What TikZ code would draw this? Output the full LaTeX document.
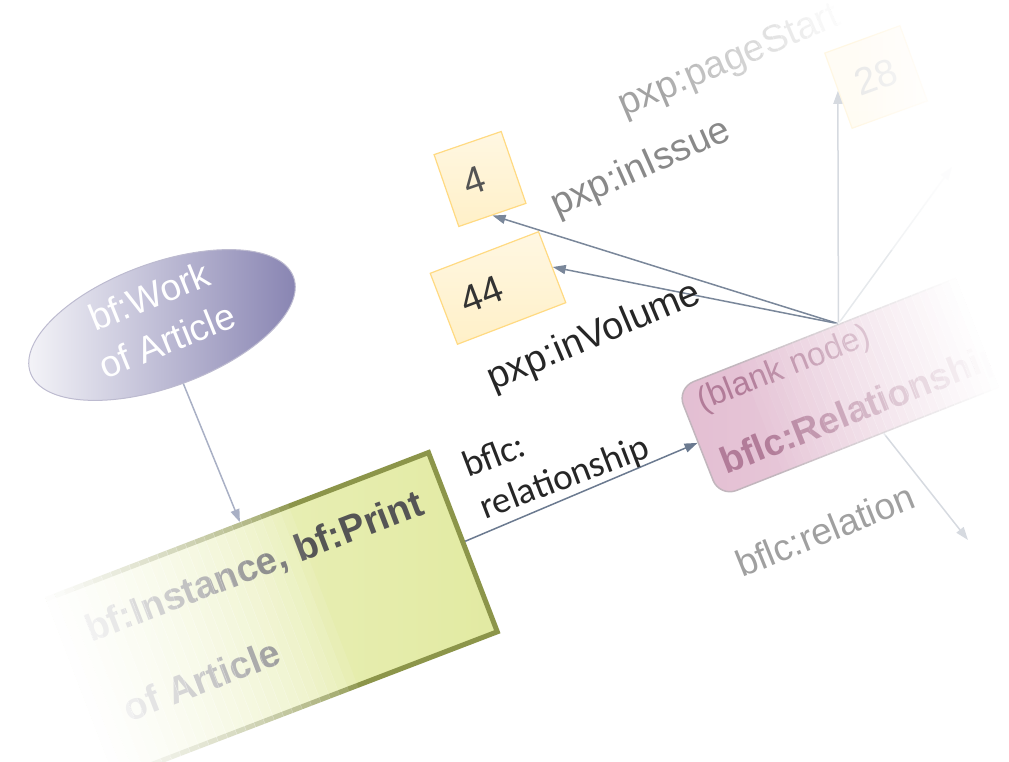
\documentclass[tikz,border=0pt]{standalone}
\usepackage{fontspec}
\setmainfont{Liberation Sans}
\newfontfamily\carlito{Carlito}
\usetikzlibrary{arrows.meta,calc,shapes.geometric}
\definecolor{workl}{HTML}{F7F7FA}
\definecolor{workr}{HTML}{8581B0}
\definecolor{workline}{HTML}{BDBBD0}
\definecolor{printl}{HTML}{EEF3C8}
\definecolor{printr}{HTML}{E2EAA2}
\definecolor{printline}{HTML}{8C954A}
\definecolor{printtext}{HTML}{555555}
\definecolor{rell}{HTML}{E3BED2}
\definecolor{relr}{HTML}{EFDAE5}
\definecolor{relline}{HTML}{C2B6BD}
\definecolor{reltext}{HTML}{B27C99}
\definecolor{valtop}{HTML}{FFF7E2}
\definecolor{valbot}{HTML}{FFF0C8}
\definecolor{valline}{HTML}{FFDA82}
\definecolor{darkarrow}{HTML}{7A879A}
\definecolor{relarrow}{HTML}{6B7A90}
\definecolor{workarrow}{HTML}{A9B0C5}
\definecolor{faintarrow}{HTML}{D6DAE0}
\definecolor{fainterarrow}{HTML}{E6E9EC}
\definecolor{txtdark}{HTML}{262626}
\definecolor{txtmid}{HTML}{898989}
\definecolor{txtlight}{HTML}{A2A2A2}
\definecolor{txtrel}{HTML}{A0A0A0}
\begin{document}
\begin{tikzpicture}[x=1pt,y=-1pt,
  arr/.style={-{Triangle[length=13pt,width=9pt]}, line width=1.5pt},
  valbox/.style={rectangle, draw=valline, line width=1.2pt, top color=valtop, bottom color=valbot,
     inner xsep=19pt, inner ysep=0pt, align=left, minimum height=76pt,
     font=\fontsize{38}{44}\selectfont},
  lbl/.style={anchor=base west, inner sep=0pt, font=\fontsize{38}{44}\selectfont},
  workst/.style={ellipse, rotate=20, minimum width=280pt, minimum height=124pt,
     left color=workl, right color=workr, draw=workline, line width=1pt},
  printst/.style={rectangle, minimum width=440pt, minimum height=192pt,
     left color=printl, right color=printr, draw=printline, line width=5pt},
  relst/.style={rectangle, rounded corners=18pt, minimum width=380pt, minimum height=117pt,
     left color=rell, right color=relr, draw=relline, line width=1.5pt},
  veil/.style={white, draw=none},
]
\useasboundingbox (0,0) rectangle (1009,762);

% ---- work ellipse
\node[workst] (work) at (162,325) {};
\node[rotate=22, text=white, align=center, inner sep=0pt,
      font=\fontsize{37}{48}\selectfont] (worktxt) at (158,318) {bf:Work\\of Article};

% ---- print box
\begin{scope}[shift={(257.5,621)}, rotate=21, transform shape]
  \node[printst] (print) at (0,0) {};
  \node[inner sep=0pt, text=printtext, font=\bfseries\fontsize{38}{44}\selectfont] (printt1) at (16.6,-50.4) {bf:Instance, bf:Print};
  \node[inner sep=0pt, text=printtext, font=\bfseries\fontsize{38}{44}\selectfont] (printt2) at (-73,35) {of Article};
\end{scope}

% ---- relationship box
\begin{scope}[shift={(875,373)}, rotate=21.5, transform shape]
  \node[relst] (rel) at (0,0) {};
  \node[anchor=base west, inner sep=0pt, text=reltext, font=\fontsize{33}{40}\selectfont] (blank) at (-175,-28) {(blank node)};
  \node[anchor=base west, inner sep=0pt, text=reltext, font=\bfseries\fontsize{37}{44}\selectfont] (reltxt) at (-176,40) {bflc:Relationship};
\end{scope}

% ---- value boxes
\node[valbox, rotate=19, text width=33pt, text=black!67] (b4) at (480,179) {4};
\node[valbox, rotate=21, text width=78pt, text=black!80] (b44) at (498,288) {44};
\node[valbox, rotate=20, text width=42pt, minimum height=80pt, draw=valline!22, top color=valtop!30, bottom color=valbot!22, text=black!9] (b28) at (876,77) {28};

% ---- connectors
\coordinate (hub) at ($(rel.north)!16pt!(rel.north west)$);
\coordinate (pe) at (952,167);
\coordinate (relout) at ($(rel.south)!14pt!(rel.south west)$);
\coordinate (relend) at (968,540);
\draw[arr, darkarrow] (hub) -- (b4.south);
\draw[arr, darkarrow] (hub) -- (b44.east);
\draw[arr, faintarrow] (hub) -- (b28.west);
\draw[arr, fainterarrow] (hub) -- (pe);
\draw[arr, faintarrow] (relout) -- (relend);
\draw[arr, relarrow] (print.east) -- (rel.west);
\draw[arr, workarrow] (work.south) -- ($(print.north)!19pt!(print.north east)$);

% ---- labels
\node[lbl, rotate=23, text=txtdark] (lvol) at (493,391) {pxp:inVolume};
\node[lbl, rotate=24, text=txtmid] (liss) at (557,217) {pxp:inIssue};
\node[lbl, rotate=23, text=txtlight] (lpage) at (624,117) {pxp:pageStart};
\node[lbl, rotate=22, text=txtrel, font=\fontsize{37}{44}\selectfont] (lrel) at (742,578) {bflc:relation};
\node[lbl, rotate=21, text=txtdark, font=\carlito\fontsize{37}{44}\selectfont] (lrs1) at (468,478) {bflc:};
\node[lbl, rotate=21, text=txtdark, font=\carlito\fontsize{37}{44}\selectfont] (lrs2) at (485,520) {relationship};

% ---- fading veils (stepped white overlays)
\begin{scope}[shift={(257.5,621)}, rotate=21]
  \fill[veil] (-260,-100) rectangle (-189.7,130);
  \foreach \i in {0,...,25}{
    \pgfmathsetmacro\ua{-190+\i*10}
    \pgfmathsetmacro\ub{\ua+10.3}
    \pgfmathsetmacro\op{((70-(\ua+5))/260)^0.6}
    \fill[veil, opacity=\op] (\ua,-100) rectangle (\ub,130);
  }
\end{scope}
\begin{scope}[shift={(875,373)}, rotate=21.5]
  \foreach \i in {0,...,29}{
    \pgfmathsetmacro\ua{-130+\i*8}
    \pgfmathsetmacro\ub{\ua+8.3}
    \pgfmathsetmacro\op{(\i+0.5)/30}
    \fill[veil, opacity=\op] (\ua,-61) rectangle (\ub,62);
  }
  \fill[veil] (110,-61) rectangle (210,62);
\end{scope}
\begin{scope}[shift={(624,117)}, rotate=23]
  \foreach \i in {0,...,24}{
    \pgfmathsetmacro\ua{40+\i*8}
    \pgfmathsetmacro\ub{\ua+8.3}
    \pgfmathsetmacro\op{((\i+0.5)/25)^0.8}
    \fill[veil, opacity=\op] (\ua,-45) rectangle (\ub,14);
  }
  \fill[veil] (240,-45) rectangle (300,14);
\end{scope}
\foreach \i in {0,...,29}{
  \pgfmathsetmacro\xa{850+\i*3}
  \pgfmathsetmacro\xb{\xa+3.2}
  \pgfmathsetmacro\op{0.9*(\i+0.5)/30}
  \fill[veil, opacity=\op] (\xa,0) rectangle (\xb,250);
}
\fill[veil, opacity=0.9] (940,0) rectangle (1009,250);
\end{tikzpicture}
\end{document}
